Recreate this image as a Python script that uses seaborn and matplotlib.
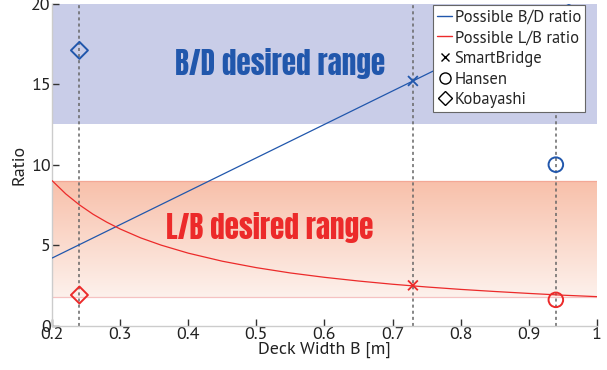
import numpy as np
import pandas as pd
import matplotlib
matplotlib.use("Agg")
import matplotlib.pyplot as plt
import seaborn as sns
from matplotlib.lines import Line2D
from matplotlib.colors import LinearSegmentedColormap

# data
bd_width = [0.2, 1.0]
bd_ratio = [4.2, 20.8]
lb_width = [0.2, 0.22, 0.24, 0.26, 0.28, 0.3, 0.33, 0.36, 0.4, 0.45, 0.5,
            0.55, 0.6, 0.65, 0.7, 0.75, 0.8, 0.85, 0.9, 0.95, 1.0]
lb_ratio = [9.0, 8.18, 7.5, 6.92, 6.43, 6.0, 5.45, 5.0, 4.5, 4.0, 3.6,
            3.27, 3.0, 2.77, 2.57, 2.4, 2.25, 2.12, 2.0, 1.89, 1.8]

bridges = ["SmartBridge", "Hansen", "Kobayashi"]
bridge_width = [0.73, 0.94, 0.24]
bridge_bd = [15.2, 10.0, 17.1]
bridge_lb = [2.5, 1.6, 1.9]
bridge_marker = ["x", "o", "D"]

bd_range = (12.5, 20.0)
lb_range = (1.8, 9.0)

blue = "#2157ac"
red = "#ec2a2a"

sns.set_style("white")
plt.rcParams["font.family"] = ["PT Sans", "DejaVu Sans"]

fig, ax = plt.subplots(figsize=(6.07, 3.70), dpi=100)
fig.subplots_adjust(left=0.086, right=0.983, top=0.99, bottom=0.12)

# desired ranges
ax.axhspan(bd_range[0], bd_range[1], color="#c9cde8", zorder=0, lw=0)
cmap = LinearSegmentedColormap.from_list("band", ["#fdf1ec", "#f8c0aa"])
grad = np.linspace(0, 1, 256).reshape(-1, 1)
ax.imshow(grad, cmap=cmap, origin="lower", aspect="auto",
          extent=(0.2, 1.0, lb_range[0], lb_range[1]), zorder=0)
ax.plot([0.2, 1.0], [lb_range[1]] * 2, color="#f3a896", lw=0.9, zorder=1)
ax.plot([0.2, 1.0], [lb_range[0]] * 2, color="#f5c2c2", lw=0.9, zorder=1)

# vertical guides
for w in bridge_width:
    ax.axvline(w, color="#666666", ls=(0, (2, 2)), lw=1.1, zorder=2)

df_bd = pd.DataFrame({"width": bd_width, "ratio": bd_ratio})
df_lb = pd.DataFrame({"width": lb_width, "ratio": lb_ratio})
sns.lineplot(data=df_bd, x="width", y="ratio", color=blue, lw=0.9, ax=ax, zorder=3)
sns.lineplot(data=df_lb, x="width", y="ratio", color=red, lw=0.9, ax=ax, zorder=3)

for name, w, bd, lb, m in zip(bridges, bridge_width, bridge_bd, bridge_lb, bridge_marker):
    pts = pd.DataFrame({"width": [w, w], "ratio": [bd, lb], "kind": ["bd", "lb"]})
    size = 75 if m == "D" else (110 if m == "o" else 50)
    if m == "x":
        sns.scatterplot(data=pts, x="width", y="ratio", hue="kind",
                        palette={"bd": blue, "lb": red}, marker="x", s=size,
                        linewidth=1.3, legend=False, ax=ax, zorder=4)
    else:
        for k, c in (("bd", blue), ("lb", red)):
            sub = pts[pts["kind"] == k]
            sns.scatterplot(data=sub, x="width", y="ratio", marker=m, s=size,
                            facecolor="none", edgecolor=c, linewidth=1.4,
                            legend=False, ax=ax, zorder=4)

ax.text(0.535, 16.3, "B/D desired range", color=blue, fontsize=21,
        family=["Anton", "DejaVu Sans"], ha="center", va="center", zorder=3)
ax.text(0.52, 6.1, "L/B desired range", color=red, fontsize=21,
        family=["Anton", "DejaVu Sans"], ha="center", va="center", zorder=3)

ax.set_xlim(0.2, 1.0)
ax.set_ylim(0, 20)
ax.set_xticks(np.arange(0.2, 1.01, 0.1))
ax.set_xticklabels(["0.2", "0.3", "0.4", "0.5", "0.6", "0.7", "0.8", "0.9", "1"])
ax.set_yticks([0, 5, 10, 15, 20])
ax.set_xlabel("Deck Width B [m]", fontsize=13, labelpad=-1, color="#222222")
ax.set_ylabel("Ratio", fontsize=13, labelpad=3, color="#222222")
ax.tick_params(direction="in", length=5, width=1, color="#333333", labelsize=13,
               labelcolor="#222222", bottom=True, left=True, pad=1)
for side in ("top", "right"):
    ax.spines[side].set_visible(False)
for side in ("left", "bottom"):
    ax.spines[side].set_color("#cccccc")
    ax.spines[side].set_linewidth(1)

handles = [
    Line2D([], [], color=blue, lw=1),
    Line2D([], [], color=red, lw=1),
    Line2D([], [], color="black", marker="x", ls="none", ms=6),
    Line2D([], [], color="black", marker="o", mfc="none", ls="none", ms=8),
    Line2D([], [], color="black", marker="D", mfc="none", ls="none", ms=7),
]
labels = ["Possible B/D ratio", "Possible L/B ratio", "SmartBridge", "Hansen", "Kobayashi"]
leg = ax.legend(handles, labels, loc="upper right", bbox_to_anchor=(0.982, 1.0),
                fontsize=12, frameon=True, fancybox=False, framealpha=1,
                edgecolor="#666666", handlelength=0.9, handletextpad=0.15,
                borderpad=0.25, labelspacing=0.28, borderaxespad=0.1)
leg.get_frame().set_linewidth(0.8)
leg.set_zorder(6)

fig.savefig("out.png", dpi=100)
